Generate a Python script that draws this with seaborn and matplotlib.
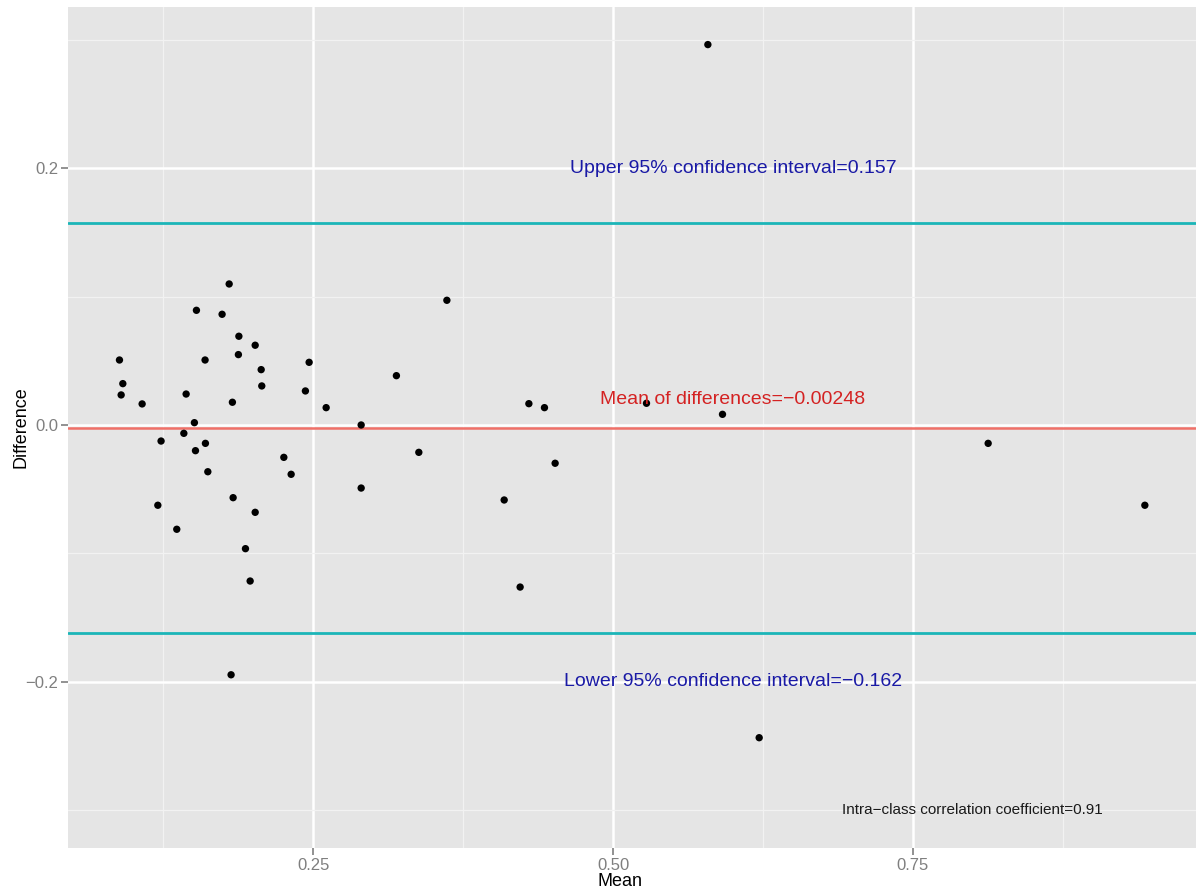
import matplotlib
matplotlib.use("Agg")
import matplotlib.pyplot as plt
import seaborn as sns
import pandas as pd

# ---- data ----
mean_vals = [0.5791, 0.1798, 0.3614, 0.1525, 0.1739, 0.1879, 0.2015, 0.0883, 0.1597, 0.1875,
             0.2465, 0.2065, 0.0911, 0.3193, 0.2070, 0.2434, 0.0897, 0.1439, 0.1072, 0.1825,
             0.2607, 0.4298, 0.4428, 0.5279, 0.5913, 0.1508, 0.2899, 0.1420, 0.1230, 0.1600,
             0.1517, 0.8129, 0.3380, 0.2254, 0.4517, 0.1620, 0.2315, 0.2899, 0.1831, 0.4092,
             0.1203, 0.2015, 0.9436, 0.1361, 0.1934, 0.1973, 0.4225, 0.1814, 0.6219]
diff_vals = [0.2962, 0.1098, 0.0971, 0.0893, 0.0862, 0.0691, 0.0621, 0.0506, 0.0506, 0.0548,
             0.0488, 0.0431, 0.0322, 0.0384, 0.0304, 0.0265, 0.0234, 0.0241, 0.0164, 0.0177,
             0.0135, 0.0166, 0.0135, 0.0169, 0.0083, 0.0018, 0.0000, -0.0065, -0.0125, -0.0143,
             -0.0200, -0.0143, -0.0213, -0.0252, -0.0298, -0.0364, -0.0384, -0.0491, -0.0566, -0.0584,
             -0.0625, -0.0680, -0.0625, -0.0812, -0.0963, -0.1215, -0.1262, -0.1945, -0.2435]

mean_diff = -0.00248
upper_ci = 0.157
lower_ci = -0.162
icc = 0.91

x_ticks = [0.25, 0.50, 0.75]
x_tick_labels = ["0.25", "0.50", "0.75"]
y_ticks = [-0.2, 0.0, 0.2]
y_tick_labels = ["\u22120.2", "0.0", "0.2"]
x_minor = [0.125, 0.375, 0.625, 0.875]
y_minor = [-0.3, -0.1, 0.1, 0.3]

df = pd.DataFrame({"Mean": mean_vals, "Difference": diff_vals})

# ---- style ----
sns.set_theme(style="darkgrid")
plt.rcParams["font.family"] = ["Liberation Sans", "DejaVu Sans"]

fig = plt.figure(figsize=(12, 8.92), dpi=100)
ax = fig.add_axes([0.0567, 0.0493, 0.94, 0.9429])
ax.set_facecolor("#E5E5E5")

ax.set_xlim(0.0454, 0.9863)
ax.set_ylim(-0.3294, 0.3255)

# grid
ax.set_xticks(x_ticks)
ax.set_xticklabels(x_tick_labels)
ax.set_yticks(y_ticks)
ax.set_yticklabels(y_tick_labels)
ax.set_xticks(x_minor, minor=True)
ax.set_yticks(y_minor, minor=True)
ax.grid(which="major", color="white", linewidth=1.8)
ax.grid(which="minor", color="#F2F2F2", linewidth=0.9)
ax.set_axisbelow(True)
for s in ax.spines.values():
    s.set_visible(False)

ax.tick_params(axis="both", which="major", length=5, width=1.2, color="#7F7F7F",
               labelcolor="#7F7F7F", labelsize=12, pad=2, bottom=True, left=True)
ax.tick_params(axis="both", which="minor", length=0)

# reference lines
ax.axhline(upper_ci, color="#1BB5B8", linewidth=2.0, zorder=2)
ax.axhline(lower_ci, color="#1BB5B8", linewidth=2.0, zorder=2)
ax.axhline(mean_diff, color="#F07068", linewidth=1.8, zorder=2)

# points
sns.scatterplot(data=df, x="Mean", y="Difference", ax=ax, color="black",
                s=28, edgecolor="none", zorder=3)

# annotations
ax.text(0.6, 0.2, "Upper 95% confidence interval=0.157", color="#1A1AA6",
        fontsize=14, ha="center", va="center", zorder=4)
ax.text(0.6, -0.2, "Lower 95% confidence interval=\u22120.162", color="#1A1AA6",
        fontsize=14, ha="center", va="center", zorder=4)
ax.text(0.6, 0.02, "Mean of differences=\u22120.00248", color="#D42222",
        fontsize=14, ha="center", va="center", zorder=4)
ax.text(0.8, -0.3, "Intra\u2212class correlation coefficient=0.91", color="#1A1A1A",
        fontsize=11, ha="center", va="center", zorder=4)

ax.set_xlabel("Mean", fontsize=13, color="black")
ax.set_ylabel("Difference", fontsize=13, color="black")
ax.xaxis.set_label_coords(0.4895, -0.030)
ax.yaxis.set_label_coords(-0.034, 0.5)

fig.savefig("out.png", dpi=100, facecolor="white")
